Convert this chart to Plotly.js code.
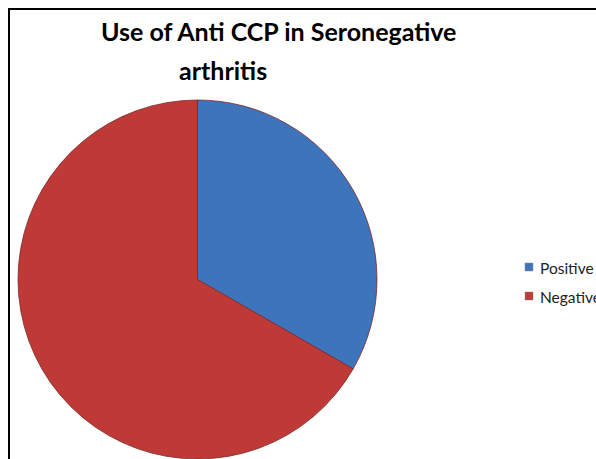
<!DOCTYPE html>
<html><head><meta charset="utf-8">
<script src="https://cdn.plot.ly/plotly-3.0.1.min.js"></script>
<style>
html,body{margin:0;padding:0;background:#fff;overflow:hidden;}
#frame{position:absolute;left:0;top:0;width:596px;height:459px;}
#border{position:absolute;left:8px;top:8px;width:600px;height:470px;border-left:2px solid #000;border-top:2px solid #000;pointer-events:none;}
</style></head>
<body>
<div id="frame"></div>
<div id="border"></div>
<script>
const categories = ["Positive", "Negative"];
const values = [33.3, 66.7];
const colors = ["#3D74BC", "#BF3A37"];
const titleLine1 = "Use of Anti CCP in Seronegative";
const titleLine2 = "arthritis";

const W = 596, H = 459;
const px = x => x / W;
const py = y => 1 - y / H;

const shapes = [], annotations = [];
annotations.push({text: "<b>" + titleLine1 + "</b>", x: px(278), y: py(31), xref: "paper", yref: "paper",
  showarrow: false, xanchor: "center", yanchor: "middle", font: {family: "Lato", size: 25, color: "#000"}});
annotations.push({text: "<b>" + titleLine2 + "</b>", x: px(223), y: py(70), xref: "paper", yref: "paper",
  showarrow: false, xanchor: "center", yanchor: "middle", font: {family: "Lato", size: 25, color: "#000"}});
categories.forEach((c, i) => {
  const cy = 267 + 29 * i;
  shapes.push({type: "rect", xref: "paper", yref: "paper", x0: px(525), x1: px(533), y0: py(cy - 4), y1: py(cy + 4),
    fillcolor: colors[i], line: {color: "#888", width: 0.5}});
  annotations.push({text: c, x: px(538), y: py(cy + 1), xref: "paper", yref: "paper", showarrow: false,
    xanchor: "left", yanchor: "middle", font: {family: "Lato", size: 15.5, color: "#222"}});
});

Plotly.newPlot("frame", [{
  type: "pie", labels: categories, values: values, sort: false, direction: "clockwise", rotation: 0,
  marker: {colors: colors, line: {color: "#7a2a28", width: 0.8}},
  textinfo: "none", hoverinfo: "label+percent",
  domain: {x: [px(17.5), px(377.5)], y: [0, py(100)]}
}], {
  width: W, height: H, margin: {l: 0, r: 0, t: 0, b: 0},
  paper_bgcolor: "#fff", showlegend: false, shapes: shapes, annotations: annotations
}, {displayModeBar: false, staticPlot: true});
</script>
</body></html>
